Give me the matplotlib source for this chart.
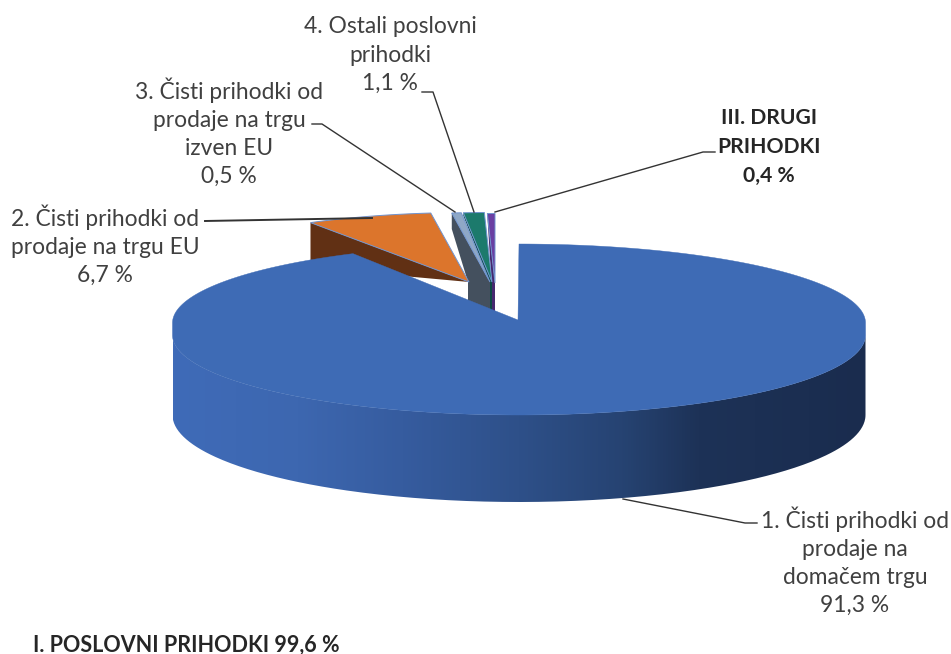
import numpy as np
import matplotlib
matplotlib.use('Agg')
import matplotlib.pyplot as plt
from matplotlib.colors import LinearSegmentedColormap
from matplotlib.patches import PathPatch
from matplotlib.path import Path

# Data
values = [91.3, 6.7, 0.5, 1.1, 0.4]
labels = ['1. Čisti prihodki od\nprodaje na\ndomačem trgu\n91,3 %',
          '2. Čisti prihodki od\nprodaje na trgu EU\n6,7 %',
          '3. Čisti prihodki od\nprodaje na trgu\nizven EU\n0,5 %',
          '4. Ostali poslovni\nprihodki\n1,1 %',
          'III. DRUGI\nPRIHODKI\n0,4 %']
footer = 'I. POSLOVNI PRIHODKI 99,6 %'

# Styles
top_colors = ['#3e6bb5', '#dc752c', '#8fa8c6', '#1c7a6c', '#6a3fa2']
side_colors = [None, '#613014', '#44505e', '#0e4a45', '#46286f']
edge_color = '#6f93cf'
text_color = '#404040'

# Layout (pixels)
cx, rx = 519, 346.5
rim_up, ry_up = 323, 79
rim_dn, ry_dn = 335, 80
bot_y, bot_ry = 415, 87
main_apex = (518, 320)
view_shift = 2.7  # perspective moves the end of the big slice a little
scale = 0.88
apexes = [None, (469, 282), (490, 282), (492, 282), (495, 283)]
rim_depth = [0, 45, 16, 3, 2]
apex_shift = [0, 0, 22, 2.5, 3.5]
label_pos = [(855, 561), (105, 245), (229, 132), (390, 55), (769, 147)]
leaders = [[(623, 499), (745, 523), (757, 523)],
           [(372, 218), (205, 221)],
           [(455, 212), (322, 124), (312, 124)],
           [(474, 212), (433, 92), (422, 92)],
           [(495, 212), (703, 152), (715, 152)]]
leader_lw = [1.0, 1.4, 1.0, 1.0, 1.0]


def rim(t):
    # point of the top rim, t in degrees clockwise from 12 o'clock
    t = np.radians(t)
    c = np.cos(t)
    y = np.where(c > 0, rim_up - ry_up * c, rim_dn - ry_dn * c)
    return cx + rx * np.sin(t), y


fig = plt.figure(figsize=(9.51, 6.54), dpi=100)
ax = fig.add_axes([0, 0, 1, 1])
ax.set_axis_off()
plt.rcParams['font.family'] = ['Lato', 'DejaVu Sans']

edges = np.concatenate([[0], np.cumsum(values)]) * 3.6

# small slices, back to front
for i in [4, 3, 2, 1]:
    ax_, ay_ = apexes[i]
    t = np.linspace(edges[i], edges[i + 1], 30)
    s = np.sin(np.radians(t))
    c = np.cos(np.radians(t))
    xs = ax_ + scale * rx * s
    ys = ay_ - scale * ry_up * c
    side = [(xs[0], ys[0]), (xs[0], ys[0] + rim_depth[i]),
            (ax_ - apex_shift[i], ay_), (ax_ - apex_shift[i], ay_ + 40),
            (ax_, ay_ + 40), (ax_, ay_)]
    ax.fill(*zip(*side), color=side_colors[i], lw=0, zorder=2 + (4 - i) * 2)
    ax.fill(np.r_[ax_, xs], np.r_[ay_, ys], facecolor=top_colors[i],
            edgecolor=edge_color, lw=0.7, zorder=3 + (4 - i) * 2)

# big slice: front wall with gradient
t = np.linspace(90, 270, 300)
x_top, y_top = rim(t)
x_bot = cx + rx * np.sin(np.radians(t))
y_bot = bot_y - bot_ry * np.cos(np.radians(t))
wall = np.r_[np.c_[x_top, y_top], np.c_[x_bot, y_bot][::-1]]
cmap = LinearSegmentedColormap.from_list('wall', [
    (0.0, '#3f6bb8'), (0.18, '#3d67b0'), (0.33, '#365c9f'), (0.5, '#2e5089'),
    (0.65, '#264372'), (0.76, '#1d3257'), (1.0, '#1a2c4e')])
im = ax.imshow(np.linspace(0, 1, 512)[None, :], cmap=cmap, aspect='auto',
               extent=(cx - rx, cx + rx, 520, 320), zorder=20)
clip = PathPatch(Path(wall), transform=ax.transData, fc='none', ec='none')
ax.add_patch(clip)
im.set_clip_path(clip)

# big slice: top face
t = np.linspace(edges[0], edges[1] + view_shift, 800)
x_top, y_top = rim(t)
ax.fill(np.r_[main_apex[0], x_top], np.r_[main_apex[1], y_top],
        color=top_colors[0], lw=0.3, zorder=21)

# leader lines and labels
for pts, lw in zip(leaders, leader_lw):
    ax.plot(*zip(*pts), color='#333333', lw=lw, zorder=25)
for i, (lab, pos) in enumerate(zip(labels, label_pos)):
    bold = i == 4
    ax.text(pos[0], pos[1], lab, ha='center', va='center',
            fontsize=15.2 if bold else 16.4,
            color='#262626' if bold else text_color,
            linespacing=1.56 if bold else 1.42,
            fontweight='bold' if bold else 'normal', zorder=30)
ax.text(33, 645, footer, ha='left', va='center', fontsize=15.5,
        color='#262626', fontweight='bold', zorder=30)

ax.set_xlim(0, 951)
ax.set_ylim(654, 0)
plt.savefig('out.png', dpi=100)
